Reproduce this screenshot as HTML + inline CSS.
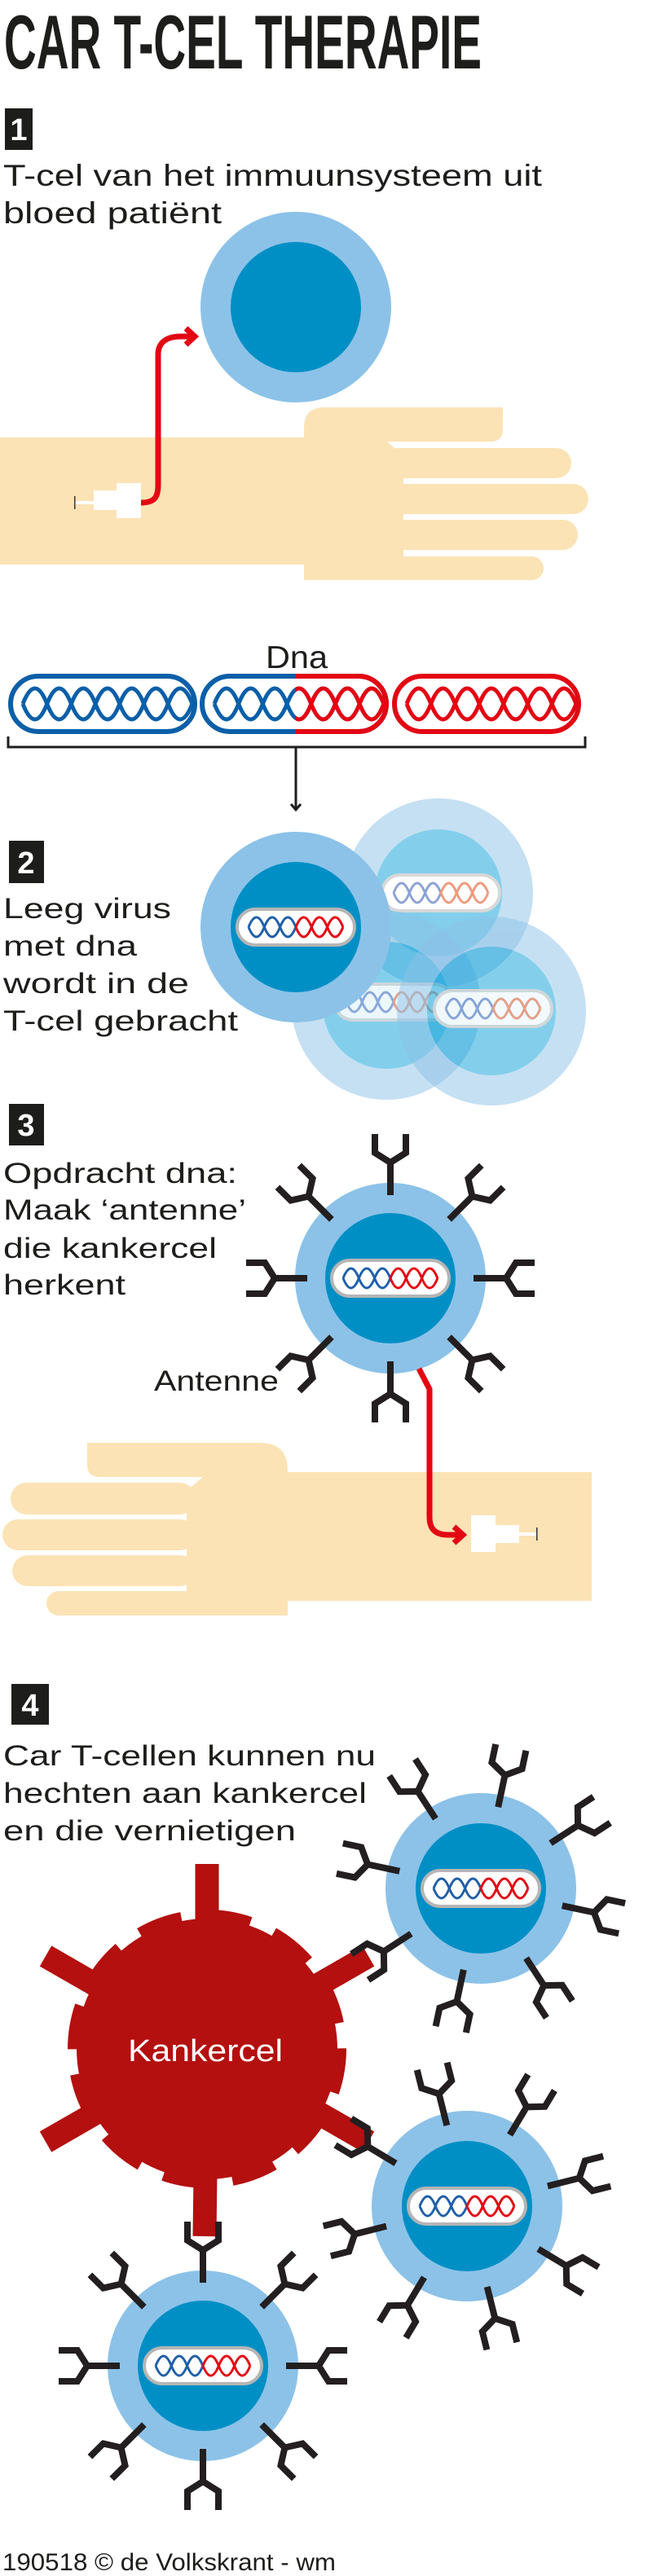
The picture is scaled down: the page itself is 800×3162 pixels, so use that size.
<!DOCTYPE html>
<html><head><meta charset="utf-8"><style>
html,body{margin:0;padding:0;background:#fff}
svg{display:block}
text{font-family:"Liberation Sans",sans-serif}
</style></head><body>
<svg width="800" height="3162" viewBox="0 0 800 3162" xmlns="http://www.w3.org/2000/svg" xmlns:xlink="http://www.w3.org/1999/xlink">
<defs>
  <path id="ant" d="M0,0 V-40 M-19,-75 V-52 L0,-40 L19,-52 V-75" fill="none" stroke="#231f20" stroke-width="8" stroke-linecap="butt" stroke-linejoin="miter"/>
  <g id="ring">
    <use xlink:href="#ant" transform="rotate(0) translate(0,-102)"/>
    <use xlink:href="#ant" transform="rotate(45) translate(0,-102)"/>
    <use xlink:href="#ant" transform="rotate(90) translate(0,-102)"/>
    <use xlink:href="#ant" transform="rotate(135) translate(0,-102)"/>
    <use xlink:href="#ant" transform="rotate(180) translate(0,-102)"/>
    <use xlink:href="#ant" transform="rotate(225) translate(0,-102)"/>
    <use xlink:href="#ant" transform="rotate(270) translate(0,-102)"/>
    <use xlink:href="#ant" transform="rotate(315) translate(0,-102)"/>
  </g>
  <g id="pill">
    <rect x="-72" y="-22" width="144" height="44" rx="22" fill="#fff" stroke="#b5b5b5" stroke-width="4"/>
    <path d="M-58,0 q9.65,-24 19.3,0 t19.3,0 t19.3,0" fill="none" stroke="#1f5fa8" stroke-width="3"/>
    <path d="M-58,0 q9.65,24 19.3,0 t19.3,0 t19.3,0" fill="none" stroke="#1f5fa8" stroke-width="3"/>
    <path d="M0,0 q9.65,24 19.3,0 t19.3,0 t19.3,0" fill="none" stroke="#e30613" stroke-width="3"/>
    <path d="M0,0 q9.65,-24 19.3,0 t19.3,0 t19.3,0" fill="none" stroke="#e30613" stroke-width="3"/>
  </g>
  <g id="fpill">
    <rect x="-72" y="-22" width="144" height="44" rx="22" fill="#fff" stroke="#d8d8d8" stroke-width="4"/>
    <path d="M-58,0 q9.65,-24 19.3,0 t19.3,0 t19.3,0" fill="none" stroke="#8aa2d6" stroke-width="3"/>
    <path d="M-58,0 q9.65,24 19.3,0 t19.3,0 t19.3,0" fill="none" stroke="#8aa2d6" stroke-width="3"/>
    <path d="M0,0 q9.65,24 19.3,0 t19.3,0 t19.3,0" fill="none" stroke="#ef9a7e" stroke-width="3"/>
    <path d="M0,0 q9.65,-24 19.3,0 t19.3,0 t19.3,0" fill="none" stroke="#ef9a7e" stroke-width="3"/>
  </g>
  <g id="cell">
    <circle r="117" fill="#8cc2e8"/>
    <circle r="80" fill="#008fc5"/>
    <use xlink:href="#pill"/>
  </g>
  <g id="cap">
    <rect x="-113" y="-34" width="226" height="68" rx="34" fill="none" stroke-width="6"/>
    <path d="M-98,0 q14.85,-38 29.7,0 t29.7,0 t29.7,0 t29.7,0 t29.7,0 t29.7,0 t29.7,0" fill="none" stroke-width="5"/>
    <path d="M-98,0 q14.85,38 29.7,0 t29.7,0 t29.7,0 t29.7,0 t29.7,0 t29.7,0 t29.7,0" fill="none" stroke-width="5"/>
  </g>
  <clipPath id="rhalf"><rect x="363" y="800" width="200" height="120"/></clipPath>
</defs>

<text x="5" y="84" font-size="94" font-weight="bold" fill="#1d1d1b" textLength="586" lengthAdjust="spacingAndGlyphs">CAR T-CEL THERAPIE</text>

<rect x="6" y="133" width="34" height="51" fill="#1d1d1b"/>
<text x="23" y="172" font-size="38" font-weight="bold" fill="#fff" text-anchor="middle">1</text>
<text x="4" y="228" font-size="37" fill="#1d1d1b" textLength="661" lengthAdjust="spacingAndGlyphs">T-cel van het immuunsysteem uit</text>
<text x="4" y="274" font-size="37" fill="#1d1d1b" textLength="268" lengthAdjust="spacingAndGlyphs">bloed patiënt</text>

<circle cx="363" cy="377" r="117" fill="#8cc2e8"/>
<circle cx="363" cy="377" r="80" fill="#008fc5"/>

<g fill="#fbe3b5">
  <rect x="0" y="537" width="380" height="156"/>
  <path d="M373,712 V525 Q373,500 398,500 H617 V527 Q617,542 602,542 H475 L495,560 V712 Z"/>
  <rect x="470" y="550" width="231" height="37" rx="18.5"/>
  <rect x="470" y="594" width="252" height="37" rx="18.5"/>
  <rect x="470" y="638" width="239" height="37" rx="18.5"/>
  <rect x="470" y="683" width="197" height="29" rx="14.5"/>
</g>
<rect x="143" y="593" width="30" height="43" fill="#fff"/>
<rect x="115" y="602" width="28" height="24" fill="#fff"/>
<rect x="92" y="615" width="23" height="4" fill="#fff"/>
<rect x="91" y="609" width="1.5" height="16" fill="#333"/>
<path d="M173,617 C190,617 194,610 194,595 V435 C194,420 205,413 222,413 H236" fill="none" stroke="#e30613" stroke-width="7"/>
<polyline points="228,403 239,413 228,423" fill="none" stroke="#e30613" stroke-width="7"/>

<text x="326" y="820" font-size="39" fill="#1d1d1b" textLength="76" lengthAdjust="spacingAndGlyphs">Dna</text>
<use xlink:href="#cap" transform="translate(126,864)" stroke="#0b5fa8"/>
<use xlink:href="#cap" transform="translate(361,864)" stroke="#0b5fa8"/>
<g clip-path="url(#rhalf)"><use xlink:href="#cap" transform="translate(361,864)" stroke="#e30613"/></g>
<use xlink:href="#cap" transform="translate(597,864)" stroke="#e30613"/>
<path d="M10,904 V917 H718 V904" fill="none" stroke="#1d1d1b" stroke-width="3"/>
<line x1="363" y1="917" x2="363" y2="993" stroke="#1d1d1b" stroke-width="3"/>
<polyline points="357,987 363,994 369,987" fill="none" stroke="#1d1d1b" stroke-width="3"/>

<rect x="11" y="1032" width="43" height="52" fill="#1d1d1b"/>
<text x="32" y="1072" font-size="38" font-weight="bold" fill="#fff" text-anchor="middle">2</text>
<text x="4" y="1127" font-size="35" fill="#1d1d1b" textLength="206" lengthAdjust="spacingAndGlyphs">Leeg virus</text>
<text x="4" y="1173" font-size="35" fill="#1d1d1b" textLength="164" lengthAdjust="spacingAndGlyphs">met dna</text>
<text x="4" y="1219" font-size="35" fill="#1d1d1b" textLength="228" lengthAdjust="spacingAndGlyphs">wordt in de</text>
<text x="4" y="1265" font-size="35" fill="#1d1d1b" textLength="288" lengthAdjust="spacingAndGlyphs">T-cel gebracht</text>

<g opacity="0.5"><circle cx="538" cy="1096" r="116" fill="#8cc2e8"/><circle cx="538" cy="1096" r="78" fill="#0aa0d8"/></g>
<use xlink:href="#fpill" transform="translate(541,1096)"/>
<g opacity="0.5"><circle cx="474" cy="1234" r="116" fill="#8cc2e8"/><circle cx="474" cy="1234" r="78" fill="#0aa0d8"/></g>
<use xlink:href="#fpill" transform="translate(483,1230)" opacity="0.85"/>
<g opacity="0.5"><circle cx="603" cy="1241" r="116" fill="#8cc2e8"/><circle cx="603" cy="1241" r="79" fill="#0aa0d8"/></g>
<use xlink:href="#fpill" transform="translate(605,1238)" opacity="0.9"/>
<use xlink:href="#cell" transform="translate(363,1138)"/>

<rect x="11" y="1355" width="43" height="51" fill="#1d1d1b"/>
<text x="32" y="1394" font-size="38" font-weight="bold" fill="#fff" text-anchor="middle">3</text>
<text x="4" y="1452" font-size="35" fill="#1d1d1b" textLength="287" lengthAdjust="spacingAndGlyphs">Opdracht dna:</text>
<text x="4" y="1497" font-size="35" fill="#1d1d1b" textLength="298" lengthAdjust="spacingAndGlyphs">Maak ‘antenne’</text>
<text x="4" y="1544" font-size="35" fill="#1d1d1b" textLength="262" lengthAdjust="spacingAndGlyphs">die kankercel</text>
<text x="4" y="1589" font-size="35" fill="#1d1d1b" textLength="150" lengthAdjust="spacingAndGlyphs">herkent</text>
<text x="189" y="1707" font-size="35" fill="#1d1d1b" textLength="153" lengthAdjust="spacingAndGlyphs">Antenne</text>

<use xlink:href="#cell" transform="translate(479,1569)"/>
<use xlink:href="#ring" transform="translate(479,1569)"/>

<g fill="#fbe3b5">
  <rect x="353" y="1807" width="373" height="158"/>
  <path d="M353,1983 V1805 Q353,1771 319,1771 H107 V1798 Q107,1813 122,1813 H249 L229,1830 V1983 Z"/>
  <rect x="13" y="1820" width="227" height="39" rx="19.5"/>
  <rect x="3" y="1865" width="237" height="38" rx="19"/>
  <rect x="15" y="1909" width="225" height="38" rx="19"/>
  <rect x="57" y="1953" width="296" height="30" rx="15"/>
</g>
<rect x="578" y="1860" width="30" height="45" fill="#fff"/>
<rect x="608" y="1872" width="29" height="22" fill="#fff"/>
<rect x="637" y="1881" width="22" height="4" fill="#fff"/>
<rect x="658" y="1875" width="1.5" height="16" fill="#333"/>
<path d="M514,1680 L527,1705 V1862 C527,1878 535,1884 550,1884 H564" fill="none" stroke="#e30613" stroke-width="7"/>
<polyline points="557,1874 568,1884 557,1894" fill="none" stroke="#e30613" stroke-width="7"/>

<rect x="14" y="2067" width="46" height="50" fill="#1d1d1b"/>
<text x="37" y="2106" font-size="38" font-weight="bold" fill="#fff" text-anchor="middle">4</text>
<text x="4" y="2167" font-size="35" fill="#1d1d1b" textLength="457" lengthAdjust="spacingAndGlyphs">Car T-cellen kunnen nu</text>
<text x="4" y="2213" font-size="35" fill="#1d1d1b" textLength="446" lengthAdjust="spacingAndGlyphs">hechten aan kankercel</text>
<text x="4" y="2259" font-size="35" fill="#1d1d1b" textLength="359" lengthAdjust="spacingAndGlyphs">en die vernietigen</text>

<g fill="#b3100f" stroke="none">
  <g stroke="#b3100f" stroke-width="29">
    <line x1="254" y1="2515" x2="254" y2="2288"/>
    <line x1="254" y1="2515" x2="452" y2="2401"/>
    <line x1="254" y1="2515" x2="452" y2="2629"/>
    <line x1="254" y1="2515" x2="251" y2="2745"/>
    <line x1="254" y1="2515" x2="56" y2="2629"/>
    <line x1="254" y1="2515" x2="56" y2="2401"/>
  </g>
  <circle cx="254" cy="2515" r="160"/>
  <circle cx="254" cy="2515" r="165" fill="none" stroke="#b3100f" stroke-width="12" stroke-dasharray="55 31.3"/>
</g>
<text x="157" y="2530" font-size="38" fill="#fff" textLength="190" lengthAdjust="spacingAndGlyphs">Kankercel</text>

<use xlink:href="#cell" transform="translate(590,2318)"/>
<use xlink:href="#ring" transform="translate(590,2318) rotate(12)"/>
<use xlink:href="#cell" transform="translate(573,2708)"/>
<use xlink:href="#ring" transform="translate(573,2708) rotate(-14)"/>
<use xlink:href="#cell" transform="translate(249,2904)"/>
<use xlink:href="#ring" transform="translate(249,2904)"/>

<text x="3" y="3155" font-size="30" fill="#1d1d1b" textLength="409" lengthAdjust="spacingAndGlyphs">190518 © de Volkskrant - wm</text>
</svg>
</body></html>
